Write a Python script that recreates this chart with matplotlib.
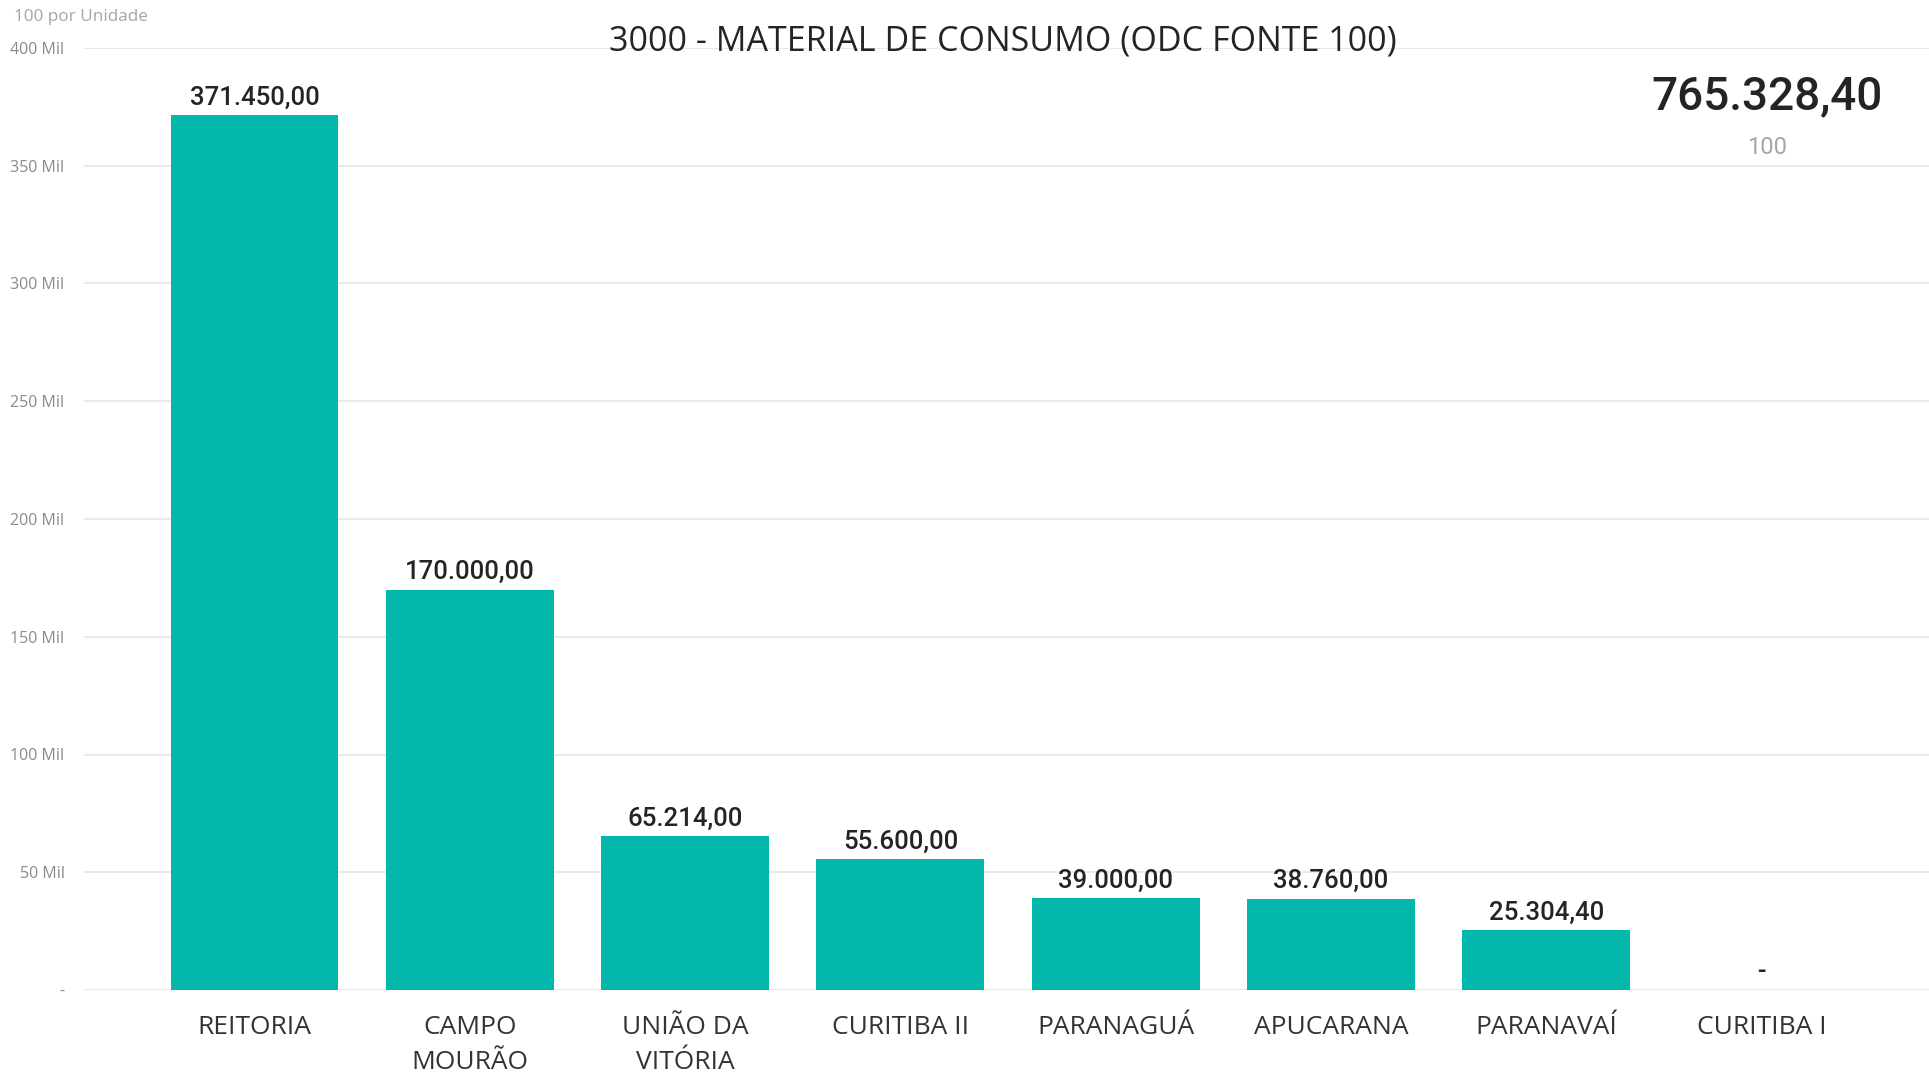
import matplotlib
matplotlib.use("Agg")
import matplotlib.pyplot as plt
from matplotlib import font_manager

categories = ["REITORIA", "CAMPO\nMOURÃO", "UNIÃO DA\nVITÓRIA", "CURITIBA II",
              "PARANAGUÁ", "APUCARANA", "PARANAVAÍ", "CURITIBA I"]
values = [371450.00, 170000.00, 65214.00, 55600.00, 39000.00, 38760.00, 25304.40, 0.0]
yticks = [0, 50000, 100000, 150000, 200000, 250000, 300000, 350000, 400000]
ytick_labels = ["-", "50 Mil", "100 Mil", "150 Mil", "200 Mil", "250 Mil",
                "300 Mil", "350 Mil", "400 Mil"]
title = "3000 - MATERIAL DE CONSUMO (ODC FONTE 100)"
total_value = 765328.40
card_label = "100"
unit_label = "100 por Unidade"

installed = {f.name for f in font_manager.fontManager.ttflist}
narrow = "Liberation Sans Narrow" if "Liberation Sans Narrow" in installed else "Open Sans"
num_font = "Roboto"


def fmt_br(v):
    if v == 0:
        return "-"
    s = f"{v:,.2f}"
    return s.replace(",", "X").replace(".", ",").replace("X", ".")


W, H = 1929, 1076
fig = plt.figure(figsize=(W / 100, H / 100), dpi=100)
fig.patch.set_facecolor("white")

left, right, bottom, top = 84, 1929, 990, 48
ax = fig.add_axes([left / W, (H - bottom) / H, (right - left) / W, (bottom - top) / H])
ax.set_facecolor("white")

x = list(range(len(categories)))
ax.bar(x, values, width=0.78, color="#01B8AA", zorder=3)
ax.set_xlim(-0.792, 7.777)
ax.set_ylim(0, 400000)

ax.set_yticks(yticks)
ax.set_yticklabels(ytick_labels, fontsize=11.5, color="#8a8a8a", family=["Open Sans", "DejaVu Sans"])
ax.tick_params(axis="y", length=0, pad=14)
ax.set_xticks(x)
ax.set_xticklabels(categories, fontsize=19, color="#333333", family=[narrow, "DejaVu Sans"],
                   linespacing=1.55)
ax.tick_params(axis="x", length=0, pad=18)
for lab in ax.get_xticklabels():
    lab.set_verticalalignment("top")

ax.grid(axis="y", color="#eaeaea", linewidth=1.5, zorder=0)
for sp in ax.spines.values():
    sp.set_visible(False)

for xi, v in zip(x, values):
    ax.annotate(fmt_br(v), (xi, v), xytext=(0, 4), textcoords="offset points",
                ha="center", va="bottom", fontsize=18.5, color="#252423",
                family=[num_font, "DejaVu Sans"], fontweight="medium")

fig.text(1003 / W, 1 - 41 / H, title, ha="center", va="center", fontsize=24.5,
         color="#252423", family=[narrow, "DejaVu Sans"], zorder=5)
fig.text(14 / W, 1 - 17 / H, unit_label, ha="left", va="center", fontsize=12.3,
         color="#a6a6a6", family=["Open Sans", "DejaVu Sans"])
fig.text(1767 / W, 1 - 96 / H, fmt_br(total_value), ha="center", va="center",
         fontsize=33, color="#252423", family=[num_font, "DejaVu Sans"], fontweight="medium")
fig.text(1767 / W, 1 - 148 / H, card_label, ha="center", va="center", fontsize=17,
         color="#a6a6a6", family=[num_font, "DejaVu Sans"])

fig.savefig("out.png", dpi=100, facecolor="white")
